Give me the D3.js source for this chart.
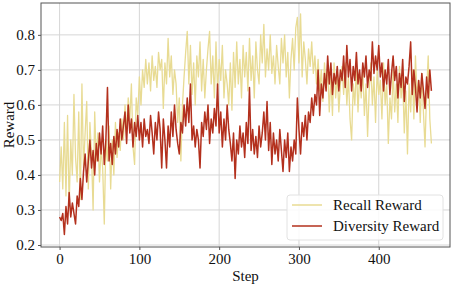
<!DOCTYPE html>
<html><head><meta charset="utf-8">
<script src="https://cdn.jsdelivr.net/npm/d3@7"></script>
<style>body{margin:0;background:#fff}svg{display:block}</style>
</head><body>
<svg id="c" width="454" height="286"></svg>
<script>
const stepInterval = 2;
const recallReward = [
0.38,0.48,0.36,0.55,0.34,0.57,0.31,0.50,0.40,0.63,
0.45,0.38,0.58,0.33,0.66,0.42,0.52,0.61,0.36,0.55,
0.46,0.30,0.58,0.44,0.52,0.38,0.48,0.42,0.26,0.50,
0.44,0.54,0.36,0.50,0.40,0.55,0.45,0.52,0.47,0.56,
0.50,0.60,0.52,0.62,0.56,0.66,0.48,0.43,0.62,0.57,
0.68,0.60,0.70,0.65,0.73,0.66,0.72,0.64,0.74,0.67,
0.71,0.65,0.75,0.70,0.73,0.59,0.72,0.66,0.79,0.68,
0.74,0.63,0.70,0.66,0.55,0.62,0.44,0.60,0.68,0.75,
0.81,0.66,0.77,0.63,0.72,0.60,0.74,0.68,0.78,0.64,
0.73,0.62,0.70,0.76,0.81,0.66,0.74,0.62,0.78,0.64,
0.73,0.67,0.77,0.62,0.70,0.66,0.60,0.72,0.585,0.75,
0.65,0.78,0.66,0.73,0.62,0.77,0.68,0.75,0.64,0.79,
0.67,0.74,0.62,0.78,0.70,0.66,0.80,0.72,0.83,0.68,
0.76,0.70,0.80,0.69,0.74,0.66,0.77,0.71,0.66,0.79,
0.72,0.80,0.68,0.75,0.62,0.73,0.79,0.70,0.82,0.85,
0.72,0.86,0.68,0.78,0.73,0.66,0.76,0.71,0.78,0.69,
0.74,0.66,0.73,0.64,0.70,0.61,0.72,0.65,0.70,0.58,
0.68,0.57,0.72,0.62,0.69,0.58,0.66,0.71,0.63,0.72,
0.60,0.68,0.56,0.50,0.66,0.60,0.71,0.58,0.68,0.62,
0.70,0.57,0.66,0.51,0.64,0.72,0.60,0.68,0.55,0.70,
0.63,0.67,0.56,0.72,0.60,0.66,0.49,0.62,0.56,0.70,
0.58,0.66,0.55,0.71,0.62,0.68,0.52,0.64,0.46,0.66,
0.58,0.70,0.56,0.74,0.62,0.67,0.55,0.69,0.58,0.48,
0.64,0.74,0.56,0.49];
const diversityReward = [
0.28,0.27,0.29,0.23,0.31,0.26,0.35,0.28,0.32,0.29,
0.26,0.34,0.31,0.39,0.33,0.41,0.46,0.38,0.44,0.50,
0.42,0.47,0.40,0.49,0.44,0.52,0.46,0.54,0.43,0.50,
0.65,0.44,0.49,0.43,0.51,0.46,0.53,0.48,0.56,0.50,
0.54,0.58,0.49,0.60,0.52,0.56,0.48,0.55,0.51,0.57,
0.50,0.55,0.48,0.56,0.51,0.53,0.49,0.57,0.52,0.46,
0.55,0.50,0.58,0.53,0.42,0.56,0.50,0.42,0.54,0.48,
0.58,0.51,0.60,0.53,0.49,0.46,0.55,0.52,0.60,0.54,
0.62,0.55,0.66,0.50,0.54,0.48,0.53,0.50,0.42,0.55,
0.51,0.58,0.53,0.60,0.49,0.56,0.52,0.59,0.54,0.66,
0.52,0.58,0.48,0.56,0.50,0.60,0.53,0.49,0.44,0.52,
0.39,0.50,0.46,0.54,0.48,0.52,0.45,0.55,0.49,0.65,
0.47,0.53,0.46,0.51,0.45,0.54,0.48,0.52,0.58,0.50,
0.61,0.47,0.55,0.43,0.52,0.46,0.50,0.44,0.53,0.47,
0.41,0.50,0.45,0.52,0.41,0.48,0.44,0.50,0.46,0.62,
0.53,0.46,0.55,0.51,0.57,0.50,0.58,0.55,0.62,0.57,
0.63,0.60,0.70,0.57,0.66,0.62,0.69,0.64,0.74,0.66,
0.72,0.63,0.69,0.66,0.71,0.64,0.70,0.67,0.74,0.65,
0.77,0.68,0.73,0.64,0.71,0.67,0.75,0.66,0.70,0.64,
0.72,0.68,0.74,0.65,0.70,0.67,0.78,0.69,0.74,0.70,
0.77,0.68,0.72,0.64,0.70,0.66,0.73,0.63,0.69,0.74,
0.67,0.71,0.62,0.69,0.65,0.73,0.61,0.68,0.66,0.71,
0.78,0.63,0.70,0.65,0.58,0.67,0.62,0.69,0.64,0.59,
0.68,0.62,0.70,0.64];
const xTicks = [0, 100, 200, 300, 400];
const yTicks = [0.2, 0.3, 0.4, 0.5, 0.6, 0.7, 0.8];
const seriesNames = ["Recall Reward", "Diversity Reward"];
const seriesColors = ["#e8db93", "#b3301d"];

const svg = d3.select("#c");
const L = 41, R = 450, T = 3, B = 247;
const x = d3.scaleLinear().domain([-23.3, 489.3]).range([L, R]);
const y = d3.scaleLinear().domain([0.1943, 0.891]).range([B, T]);
const font = "'Liberation Serif','Times New Roman',serif";
const fs = 15;

// grid
svg.append("g").selectAll("line").data(xTicks).join("line")
  .attr("x1", d => x(d)).attr("x2", d => x(d)).attr("y1", T).attr("y2", B)
  .attr("stroke", "#d6d6d6").attr("stroke-width", 1);
svg.append("g").selectAll("line").data(yTicks).join("line")
  .attr("y1", d => y(d)).attr("y2", d => y(d)).attr("x1", L).attr("x2", R)
  .attr("stroke", "#d6d6d6").attr("stroke-width", 1);

// axes
const xAxis = svg.append("g").attr("transform", `translate(0,${B})`)
  .call(d3.axisBottom(x).tickValues(xTicks).tickSize(3).tickPadding(3).tickFormat(d3.format("d")));
const yAxis = svg.append("g").attr("transform", `translate(${L},0)`)
  .call(d3.axisLeft(y).tickValues(yTicks).tickSize(3).tickPadding(3).tickFormat(d3.format(".1f")));
[xAxis, yAxis].forEach(a => {
  a.select(".domain").remove();
  a.selectAll("line").attr("stroke", "#555");
  a.selectAll("text").attr("font-family", font).attr("font-size", fs).attr("fill", "#111");
});

// lines
const line = d3.line().x((d, i) => x(i * stepInterval)).y(d => y(d));
[recallReward, diversityReward].forEach((s, k) => {
  svg.append("path").datum(s).attr("d", line).attr("fill", "none")
    .attr("stroke", seriesColors[k]).attr("stroke-width", k ? 1.5 : 1.3).attr("stroke-linejoin", "round");
});

// frame
svg.append("rect").attr("x", L).attr("y", T).attr("width", R - L).attr("height", B - T)
  .attr("fill", "none").attr("stroke", "#555").attr("stroke-width", 1);

// labels
svg.append("text").attr("x", (L + R) / 2).attr("y", 281).attr("text-anchor", "middle")
  .attr("font-family", font).attr("font-size", fs).attr("fill", "#111").text("Step");
svg.append("text").attr("transform", `translate(14,${(T + B) / 2}) rotate(-90)`).attr("text-anchor", "middle")
  .attr("font-family", font).attr("font-size", fs).attr("fill", "#111").text("Reward");

// legend
const lg = svg.append("g");
lg.append("rect").attr("x", 287).attr("y", 195).attr("width", 156).attr("height", 45).attr("rx", 3)
  .attr("fill", "#fff").attr("fill-opacity", 0.85).attr("stroke", "#e2e2e2");
seriesNames.forEach((n, i) => {
  const yy = 205 + i * 21;
  lg.append("line").attr("x1", 292).attr("x2", 322).attr("y1", yy).attr("y2", yy)
    .attr("stroke", seriesColors[i]).attr("stroke-width", 1.5);
  lg.append("text").attr("x", 333).attr("y", yy + 5).attr("font-family", font).attr("font-size", fs)
    .attr("fill", "#111").text(n);
});
</script>
</body></html>
